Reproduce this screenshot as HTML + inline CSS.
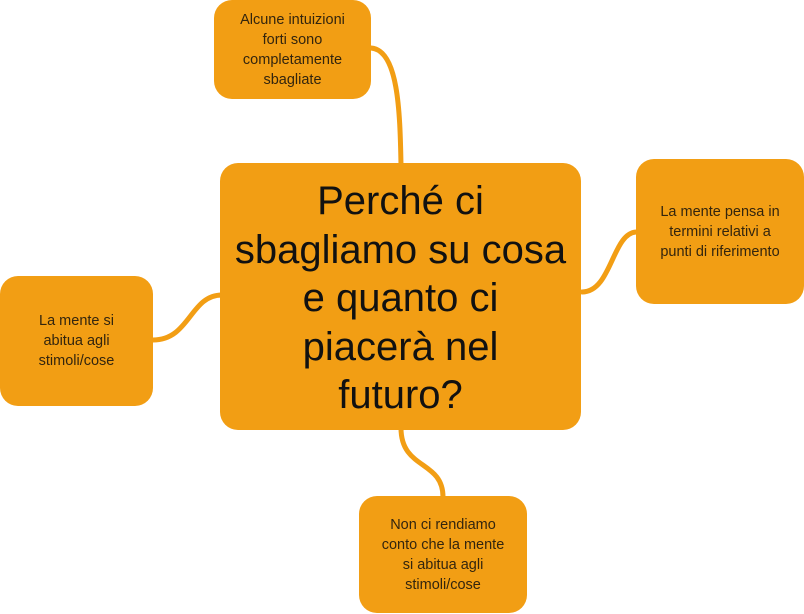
<!DOCTYPE html>
<html><head><meta charset="utf-8"><style>
html,body{margin:0;padding:0;background:#fff;}
body{width:804px;height:614px;position:relative;overflow:hidden;font-family:"Liberation Sans","DejaVu Sans",sans-serif;}
.b{position:absolute;background:#F29E14;border-radius:18px;display:flex;align-items:center;justify-content:center;text-align:center;color:#33250e;font-size:14.5px;line-height:20px;box-sizing:border-box;}
svg{position:absolute;left:0;top:0;}
</style></head><body>
<svg width="804" height="614">
<g fill="none" stroke="#F29E14" stroke-linecap="round">
<path d="M371,48 C398,50 400,110 401,165" stroke-width="5"/>
<path d="M582,292 C612,292 612,232 637,232" stroke-width="5"/>
<path d="M153,340 C190,340 190,295 222,295" stroke-width="5"/>
<path d="M401,428 C401,470 443,460 443,497" stroke-width="5"/>
</g>
</svg>
<div class="b" style="left:214px;top:0;width:157px;height:99px;">Alcune intuizioni<br>forti sono<br>completamente<br>sbagliate</div>
<div class="b" style="left:220px;top:163px;width:361px;height:267px;font-size:40px;line-height:48.5px;color:#111;padding-top:4px;">Perché ci<br>sbagliamo su cosa<br>e quanto ci<br>piacerà nel<br>futuro?</div>
<div class="b" style="left:636px;top:159px;width:168px;height:145px;">La mente pensa in<br>termini relativi a<br>punti di riferimento</div>
<div class="b" style="left:0;top:276px;width:153px;height:130px;">La mente si<br>abitua agli<br>stimoli/cose</div>
<div class="b" style="left:359px;top:496px;width:168px;height:117px;">Non ci rendiamo<br>conto che la mente<br>si abitua agli<br>stimoli/cose</div>
</body></html>
